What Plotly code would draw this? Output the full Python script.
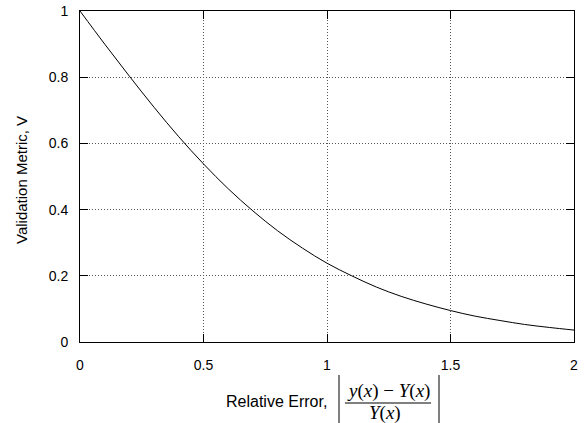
import plotly.graph_objects as go

rel_error = [0.0, 0.1, 0.2, 0.3, 0.4, 0.5, 0.6, 0.7, 0.8, 0.9, 1.0,
             1.1, 1.2, 1.3, 1.4, 1.5, 1.6, 1.7, 1.8, 1.9, 2.0]
validation = [1.0, 0.900, 0.803, 0.709, 0.620, 0.538, 0.463, 0.396, 0.336, 0.284, 0.238,
              0.200, 0.166, 0.138, 0.115, 0.095, 0.078, 0.065, 0.053, 0.044, 0.036]
x_ticks = [0, 0.5, 1, 1.5, 2]
x_tick_labels = ["0", "0.5", "1", "1.5", "2"]
y_ticks = [0, 0.2, 0.4, 0.6, 0.8, 1]
y_tick_labels = ["0", "0.2", "0.4", "0.6", "0.8", "1"]

W, H = 586, 423
L, R, T, B = 80, 12, 11, 81
pw, ph = W - L - R, H - T - B

def px(x):
    return (x - L) / pw

def py(y):
    return (H - B - y) / ph

fig = go.Figure()
fig.add_trace(go.Scatter(x=rel_error, y=validation, mode="lines",
                         line=dict(color="black", width=1, shape="spline"),
                         showlegend=False, hoverinfo="skip"))

axis_common = dict(showline=True, linecolor="black", linewidth=1, mirror="allticks",
                   ticks="inside", ticklen=8, tickcolor="black", tickwidth=1,
                   showgrid=True, gridcolor="#555555", griddash="1px,2px", gridwidth=1,
                   zeroline=False, automargin=False,
                   tickfont=dict(family="Liberation Sans, Arial", size=14, color="black"))

fig.update_xaxes(range=[0, 2], tickvals=x_ticks, ticktext=x_tick_labels,
                 ticklabelstandoff=10, **axis_common)
fig.update_yaxes(range=[0, 1], tickvals=y_ticks, ticktext=y_tick_labels,
                 ticklabelstandoff=8, **axis_common)

sans_y = dict(family="Liberation Sans, Arial", size=15, color="black")
sans_x = dict(family="Liberation Sans, Arial", size=16, color="black")
serif = dict(family="Liberation Serif, Times New Roman", size=19, color="black")

annotations = [
    dict(text="Validation Metric, V", x=px(21), y=py(180), xref="paper", yref="paper",
         textangle=-90, showarrow=False, font=sans_y, xanchor="center", yanchor="middle"),
    dict(text="Relative Error,", x=px(329), y=py(401), xref="paper", yref="paper",
         showarrow=False, font=sans_x, xanchor="right", yanchor="middle"),
    dict(text="<i>y</i>(<i>x</i>) \u2212 <i>Y</i>(<i>x</i>)", x=px(388), y=py(391), xref="paper", yref="paper",
         showarrow=False, font=serif, xanchor="center", yanchor="middle"),
    dict(text="<i>Y</i>(<i>x</i>)", x=px(385), y=py(413), xref="paper", yref="paper",
         showarrow=False, font=serif, xanchor="center", yanchor="middle"),
]

shapes = [
    dict(type="line", xref="paper", yref="paper", x0=px(345), x1=px(431), y0=py(403), y1=py(403),
         line=dict(color="black", width=1)),
    dict(type="line", xref="paper", yref="paper", x0=px(339), x1=px(339), y0=py(375), y1=py(423),
         line=dict(color="black", width=1)),
    dict(type="line", xref="paper", yref="paper", x0=px(439), x1=px(439), y0=py(375), y1=py(423),
         line=dict(color="black", width=1)),
]

fig.update_layout(width=W, height=H, margin=dict(l=L, r=R, t=T, b=B),
                  paper_bgcolor="white", plot_bgcolor="white",
                  annotations=annotations, shapes=shapes)

fig.write_html("out.html", config={"displayModeBar": False},
               post_script="document.body.style.margin='0';document.body.style.overflow='hidden';")
